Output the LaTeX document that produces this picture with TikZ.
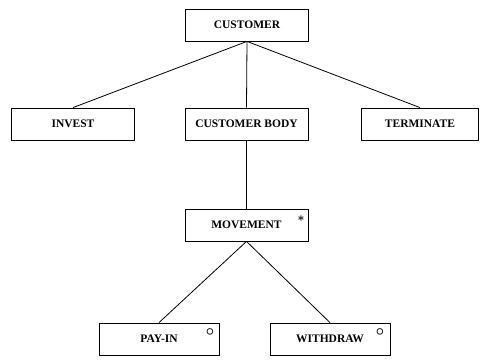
\documentclass[tikz,border=0pt]{standalone}
\usepackage{fontspec}
\setmainfont{Liberation Serif}
\begin{document}
\begin{tikzpicture}[x=1pt,y=-1pt,
  jbox/.style={draw,line width=0.8pt,minimum width=123pt,minimum height=32pt,inner sep=0pt,font=\fontsize{11.5}{13}\selectfont\bfseries},
  symb/.style={font=\fontsize{15}{15}\selectfont\boldmath,inner sep=0pt},
  link/.style={line width=0.8pt}]
\useasboundingbox (0,0) rectangle (480,361);
\node[jbox] (customer) at (247,25) {CUSTOMER};
\node[jbox] (invest) at (73,124) {INVEST};
\node[jbox] (body) at (246.5,124) {CUSTOMER BODY};
\node[jbox,minimum width=117pt] (terminate) at (420,124) {TERMINATE};
\node[jbox] (movement) at (246.5,225) {MOVEMENT};
\node[jbox,minimum width=120pt] (payin) at (159,339) {PAY-IN};
\node[jbox,minimum width=120pt] (withdraw) at (330,339) {WITHDRAW};
\node[symb,font=\fontsize{12}{12}\selectfont\boldmath] (m1) at (301,219) {$\ast$};
\node[symb] (m2) at (210,332) {$\circ$};
\node[symb] (m3) at (380,332) {$\circ$};
\draw[link] (customer.south) -- (invest.north);
\draw[link] (customer.south) -- (body.north);
\draw[link] (customer.south) -- (terminate.north);
\draw[link] (body.south) -- (movement.north);
\draw[link] (movement.south) -- (payin.north);
\draw[link] (movement.south) -- (withdraw.north);
\end{tikzpicture}
\end{document}
